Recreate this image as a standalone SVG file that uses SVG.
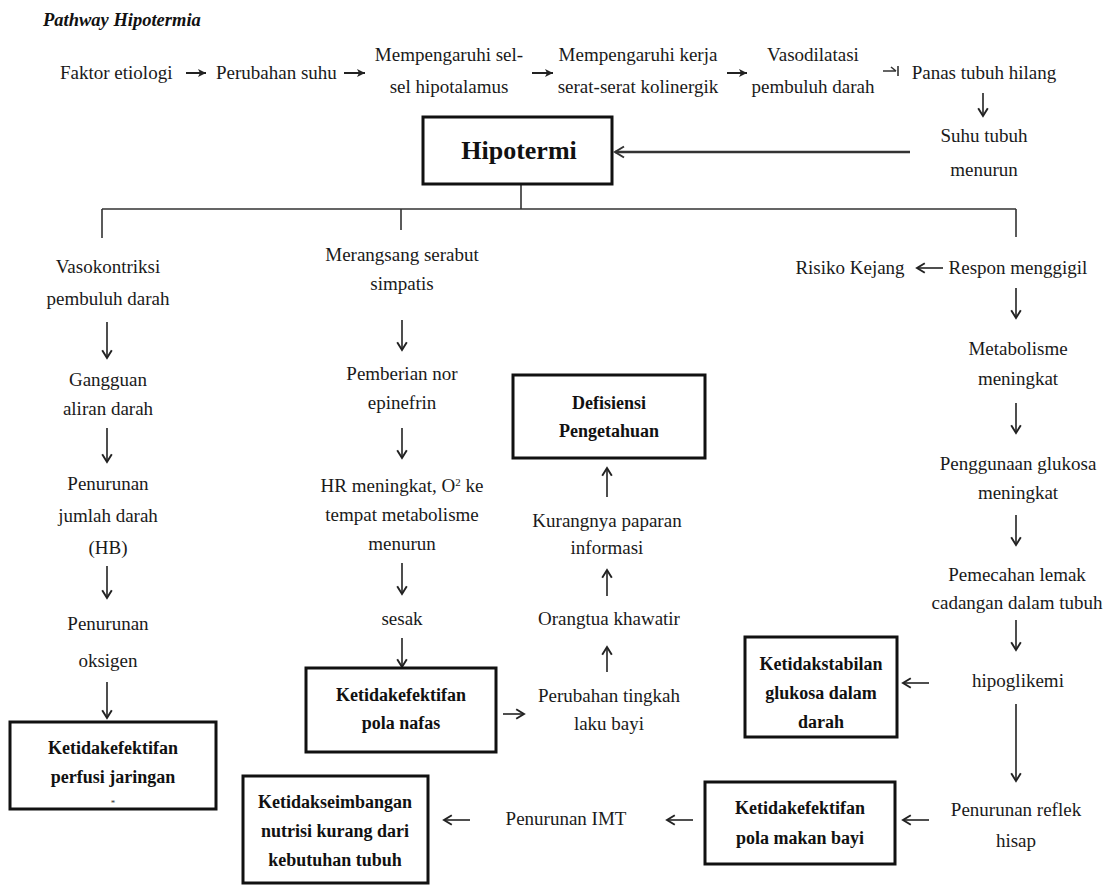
<svg xmlns="http://www.w3.org/2000/svg" width="1108" height="886" viewBox="0 0 1108 886">
<style>
  .t{font-family:"Liberation Serif","Times New Roman",serif;font-size:19px;fill:#1a1a1a}
  .c{text-anchor:middle}
  .b{font-family:"Liberation Serif","Times New Roman",serif;font-size:18px;font-weight:bold;fill:#111;text-anchor:middle}
  .box{fill:#fff;stroke:#111;stroke-width:3}
  .ln{stroke:#333;stroke-width:1.6;fill:none}
  .ar{stroke:#222;stroke-width:1.6;fill:none;marker-end:url(#open)}
  .as{stroke:#222;stroke-width:2;fill:none;marker-end:url(#solid)}
</style>
<defs>
  <marker id="open" markerUnits="userSpaceOnUse" markerWidth="12" markerHeight="12" viewBox="0 0 10 10" refX="8.5" refY="5" orient="auto">
    <path d="M2,1 L8.5,5 L2,9" fill="none" stroke="#222" stroke-width="1.6"/>
  </marker>
  <marker id="solid" markerUnits="userSpaceOnUse" markerWidth="10" markerHeight="10" viewBox="0 0 10 10" refX="9" refY="5" orient="auto">
    <path d="M1,1 L9,5 L1,9 L3,5 Z" fill="#222"/>
  </marker>
  <marker id="big" markerUnits="userSpaceOnUse" markerWidth="14" markerHeight="14" viewBox="0 0 14 14" refX="12" refY="7" orient="auto">
    <path d="M3,1.5 L12,7 L3,12.5" fill="none" stroke="#333" stroke-width="2"/>
  </marker>
</defs>
<rect width="1108" height="886" fill="#fff"/>

<text x="43" y="26" style="font-family:'Liberation Serif','Times New Roman',serif;font-size:18.5px;font-weight:bold;font-style:italic;fill:#111">Pathway Hipotermia</text>

<g id="connectors">
  <line class="as" x1="186" y1="73" x2="206" y2="73"/>
  <line class="as" x1="344" y1="73" x2="365" y2="73"/>
  <line class="as" x1="532" y1="73" x2="553" y2="73"/>
  <line class="as" x1="727" y1="73" x2="747" y2="73"/>
  <path class="ln" d="M883,71 H896 M891,67 L896,71 M898,66 V76" stroke-width="1.5"/>
  <line class="ar" x1="983" y1="93" x2="983" y2="116"/>
  <line x1="910" y1="152" x2="615" y2="152" stroke="#333" stroke-width="2.5" marker-end="url(#big)"/>
  <path class="ln" d="M521,184 V209 M102,209 H1016 M102,209 V238 M401,209 V230 M1016,209 V237"/>
  <line class="ar" x1="107" y1="322" x2="107" y2="358"/>
  <line class="ar" x1="107" y1="428" x2="107" y2="462"/>
  <line class="ar" x1="107" y1="566" x2="107" y2="598"/>
  <line class="ar" x1="107" y1="682" x2="107" y2="718"/>
  <line class="ar" x1="402" y1="320" x2="402" y2="350"/>
  <line class="ar" x1="402" y1="428" x2="402" y2="458"/>
  <line class="ar" x1="402" y1="563" x2="402" y2="594"/>
  <line class="ar" x1="402" y1="638" x2="402" y2="667"/>
  <line class="ar" x1="503" y1="714" x2="524" y2="714"/>
  <line class="ar" x1="607" y1="497" x2="607" y2="468"/>
  <line class="ar" x1="607" y1="596" x2="607" y2="570"/>
  <line class="ar" x1="607" y1="672" x2="607" y2="647"/>
  <line class="ar" x1="943" y1="268" x2="917" y2="268"/>
  <line class="ar" x1="1016" y1="288" x2="1016" y2="318"/>
  <line class="ar" x1="1016" y1="403" x2="1016" y2="433"/>
  <line class="ar" x1="1016" y1="515" x2="1016" y2="545"/>
  <line class="ar" x1="1016" y1="620" x2="1016" y2="650"/>
  <line class="ar" x1="1016" y1="704" x2="1016" y2="781"/>
  <line class="ar" x1="929" y1="683" x2="903" y2="683"/>
  <line class="ar" x1="929" y1="820" x2="903" y2="820"/>
  <line class="ar" x1="693" y1="820" x2="667" y2="820"/>
  <line class="ar" x1="470" y1="820" x2="444" y2="820"/>
</g>

<g id="n-faktor"><text class="t" x="60" y="79">Faktor etiologi</text></g>
<g id="n-perubahan-suhu"><text class="t" x="216" y="79">Perubahan suhu</text></g>
<g id="n-hipotalamus"><text class="t c" x="449" y="61">Mempengaruhi sel-</text><text class="t c" x="449" y="93">sel hipotalamus</text></g>
<g id="n-kolinergik"><text class="t c" x="638" y="61">Mempengaruhi kerja</text><text class="t c" x="638" y="93">serat-serat kolinergik</text></g>
<g id="n-vasodilatasi"><text class="t c" x="813" y="61">Vasodilatasi</text><text class="t c" x="813" y="93">pembuluh darah</text></g>
<g id="n-panas"><text class="t c" x="984" y="79">Panas tubuh hilang</text></g>
<g id="n-suhu"><text class="t c" x="984" y="142">Suhu tubuh</text><text class="t c" x="984" y="176">menurun</text></g>

<g id="n-hipotermi"><rect class="box" x="423" y="117" width="189" height="67" stroke-width="3.5"/><text class="b" x="519" y="159" style="font-size:26px">Hipotermi</text></g>

<g id="n-vasokontriksi"><text class="t c" x="108" y="273">Vasokontriksi</text><text class="t c" x="108" y="305">pembuluh darah</text></g>
<g id="n-gangguan"><text class="t c" x="108" y="386">Gangguan</text><text class="t c" x="108" y="415">aliran darah</text></g>
<g id="n-penurunan-darah"><text class="t c" x="108" y="490">Penurunan</text><text class="t c" x="108" y="522">jumlah darah</text><text class="t c" x="108" y="554">(HB)</text></g>
<g id="n-penurunan-oksigen"><text class="t c" x="108" y="630">Penurunan</text><text class="t c" x="108" y="667">oksigen</text></g>
<g id="n-perfusi"><rect class="box" x="10" y="722" width="206" height="87"/><text class="b" x="113" y="754">Ketidakefektifan</text><text class="b" x="113" y="783">perfusi jaringan</text><text x="113" y="806" style="font-family:'Liberation Serif',serif;font-size:9px;fill:#333;text-anchor:middle">*</text></g>

<g id="n-merangsang"><text class="t c" x="402" y="261">Merangsang serabut</text><text class="t c" x="402" y="290">simpatis</text></g>
<g id="n-pemberian"><text class="t c" x="402" y="380">Pemberian nor</text><text class="t c" x="402" y="409">epinefrin</text></g>
<g id="n-hr"><text class="t c" x="402" y="492">HR meningkat, O<tspan dy="-6" style="font-size:11px">2</tspan><tspan dy="6"> ke</tspan></text><text class="t c" x="402" y="521">tempat metabolisme</text><text class="t c" x="402" y="550">menurun</text></g>
<g id="n-sesak"><text class="t c" x="402" y="625">sesak</text></g>
<g id="n-pola-nafas"><rect class="box" x="306" y="668" width="190" height="84"/><text class="b" x="401" y="701">Ketidakefektifan</text><text class="b" x="401" y="729">pola nafas</text></g>

<g id="n-defisiensi"><rect class="box" x="513" y="375" width="192" height="83"/><text class="b" x="609" y="409">Defisiensi</text><text class="b" x="609" y="437">Pengetahuan</text></g>
<g id="n-kurangnya"><text class="t c" x="607" y="527">Kurangnya paparan</text><text class="t c" x="607" y="554">informasi</text></g>
<g id="n-orangtua"><text class="t c" x="609" y="625">Orangtua khawatir</text></g>
<g id="n-perubahan-tingkah"><text class="t c" x="609" y="702">Perubahan tingkah</text><text class="t c" x="609" y="730">laku bayi</text></g>

<g id="n-risiko"><text class="t c" x="850" y="274">Risiko Kejang</text></g>
<g id="n-respon"><text class="t c" x="1018" y="274">Respon menggigil</text></g>
<g id="n-metabolisme"><text class="t c" x="1018" y="355">Metabolisme</text><text class="t c" x="1018" y="385">meningkat</text></g>
<g id="n-glukosa"><text class="t c" x="1018" y="470">Penggunaan glukosa</text><text class="t c" x="1018" y="499">meningkat</text></g>
<g id="n-lemak"><text class="t c" x="1017" y="581">Pemecahan lemak</text><text class="t c" x="1017" y="609">cadangan dalam tubuh</text></g>
<g id="n-hipoglikemi"><text class="t c" x="1018" y="687">hipoglikemi</text></g>
<g id="n-ketidakstabilan"><rect class="box" x="745" y="637" width="152" height="100"/><text class="b" x="821" y="670">Ketidakstabilan</text><text class="b" x="821" y="699">glukosa dalam</text><text class="b" x="821" y="728">darah</text></g>
<g id="n-reflek"><text class="t c" x="1016" y="816">Penurunan reflek</text><text class="t c" x="1016" y="847">hisap</text></g>
<g id="n-pola-makan"><rect class="box" x="705" y="782" width="190" height="82"/><text class="b" x="800" y="814">Ketidakefektifan</text><text class="b" x="800" y="844">pola makan bayi</text></g>
<g id="n-imt"><text class="t c" x="566" y="825">Penurunan IMT</text></g>
<g id="n-ketidakseimbangan"><rect class="box" x="243" y="776" width="185" height="107"/><text class="b" x="335" y="808">Ketidakseimbangan</text><text class="b" x="335" y="837">nutrisi kurang dari</text><text class="b" x="335" y="866">kebutuhan tubuh</text></g>
</svg>
